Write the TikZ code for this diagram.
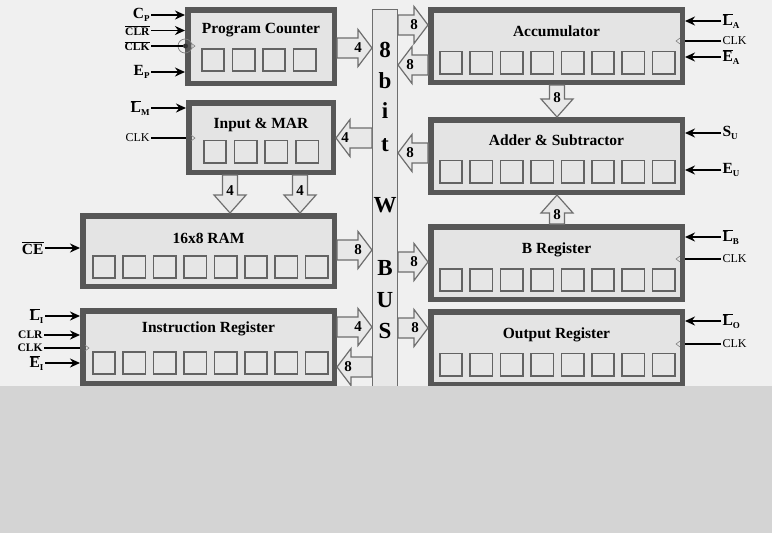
\documentclass[tikz,border=0pt]{standalone}
\usepackage{fontspec}
\setmainfont{Liberation Serif}
\usetikzlibrary{calc,arrows.meta}

\definecolor{bgtop}{HTML}{F0F0F0}
\definecolor{bgbot}{HTML}{D4D4D4}
\definecolor{boxedge}{HTML}{575757}
\definecolor{boxfill}{HTML}{E4E4E4}
\definecolor{cellfill}{HTML}{E6E6E6}
\definecolor{celledge}{HTML}{636363}
\definecolor{fatfill}{HTML}{E8E8E8}
\definecolor{fatedge}{HTML}{6E6E6E}
\definecolor{busfill}{HTML}{E8E8E8}

\newcommand\sub[1]{\raisebox{-2.5pt}{\fontsize{9}{9}\selectfont #1}}
\newcommand\ovl[1]{$\overline{\hbox{#1}}$}

\def\fatw{10pt}\def\fatW{18.5pt}\def\fatl{14pt}

\tikzset{
  x=1pt, y=-1pt,
  regbox/.style={draw=boxedge, line width=5.5pt, fill=boxfill, inner sep=0pt},
  busbox/.style={draw=fatedge, line width=1.3pt, fill=busfill, inner sep=0pt,
    minimum width=24.7pt, minimum height=382pt},
  cell/.style={draw=celledge, line width=1.6pt, fill=cellfill, inner sep=0pt,
    minimum width=22.4pt, minimum height=22.4pt},
  title/.style={font=\fontsize{15.5}{17}\selectfont\bfseries, inner sep=0pt, anchor=base},
  buslet/.style={font=\fontsize{23}{25}\selectfont\bfseries, inner sep=0pt, anchor=base},
  alab/.style={font=\fontsize{15}{16}\selectfont\bfseries, inner sep=0pt},
  siglab/.style={font=\fontsize{15.5}{16}\selectfont\bfseries, inner sep=0pt, outer sep=1.5pt},
  smallab/.style={font=\fontsize{12}{13}\selectfont, inner sep=0pt, outer sep=1.5pt},
  smallbold/.style={font=\fontsize{11.5}{12}\selectfont\bfseries, inner sep=0pt, outer sep=1.5pt},
  sig/.style={-{Stealth[length=10pt,width=9pt]}, line width=1.8pt, black},
  clkline/.style={line width=1.8pt, black},
  clktri/.style={draw=gray, line width=0.6pt},
  fath/.code={\def\fatw{10pt}\def\fatW{18.5pt}\def\fatl{14pt}},
  fatv/.code={\def\fatw{7.5pt}\def\fatW{16pt}\def\fatl{18pt}},
  fat/.style={draw=fatedge, fill=fatfill, line width=1.2pt, line join=miter,
    to path={let \p1=(\tikztostart), \p2=(\tikztotarget),
      \p3=($(\p2)!\fatl!(\p1)$) in
      ($(\p1)!\fatw!90:(\p2)$) -- ($(\p3)!\fatw!-90:(\p1)$) --
      ($(\p3)!\fatW!-90:(\p1)$) -- (\p2) --
      ($(\p3)!\fatW!90:(\p1)$) -- ($(\p3)!\fatw!90:(\p1)$) --
      ($(\p1)!\fatw!-90:(\p2)$) -- cycle}}
}

% #1 style, #2 label node name, #3 start, #4 end, #5 label, #6 label distance from tip
\newcommand\fatarrow[6][fath]{%
  \path[#1,fat] (#3) to (#4);
  \node[alab] (#2) at ($(#4)!#6!(#3)$) {#5};}

% #1 name, #2 count, #3 left x of first cell, #4 pitch, #5 centre y
\newcommand\cellrow[5]{%
  \foreach \i in {1,...,#2}
    \node[cell] (#1-c\i) at ({#3+12+(\i-1)*#4}, #5) {};}

\begin{document}
\begin{tikzpicture}
\useasboundingbox (0,0) rectangle (772,533);
\fill[bgtop] (0,0) rectangle (772,386);

% ---------- bus ----------
\node[busbox] (bus) at (385,200.5) {};
\foreach \ch/\yy [count=\k] in {8/57, b/88, i/118, t/151, W/212, B/275, U/307, S/338}
  \node[buslet] (bus-l\k) at (385,\yy) {\ch};

% ---------- left column ----------
\node[regbox, minimum width=146.5pt, minimum height=73.5pt] (pc) at (261,46.5) {};
\node[title] (pc-t) at (261,33) {Program Counter};
\cellrow{pc}{4}{201}{30.5}{60}

\node[regbox, minimum width=144.5pt, minimum height=69.5pt] (mar) at (261,137.5) {};
\node[title] (mar-t) at (261,128) {Input \& MAR};
\cellrow{mar}{4}{203}{30.7}{151.5}

\node[regbox, minimum width=251.5pt, minimum height=70.5pt] (ram) at (208.5,251) {};
\node[title] (ram-t) at (208.5,243) {16x8 RAM};
\cellrow{ram}{8}{92}{30.4}{267}

\node[regbox, minimum width=251.5pt, minimum height=72.5pt] (ir) at (208.5,347) {};
\node[title] (ir-t) at (208.5,332) {Instruction Register};
\cellrow{ir}{8}{92}{30.4}{363}

% ---------- right column ----------
\node[regbox, minimum width=251.5pt, minimum height=72.5pt] (acc) at (556.5,46) {};
\node[title] (acc-t) at (556.5,36) {Accumulator};
\cellrow{acc}{8}{439}{30.4}{62.5}

\node[regbox, minimum width=251.5pt, minimum height=72.5pt] (add) at (556.5,156) {};
\node[title] (add-t) at (556.5,145) {Adder \& Subtractor};
\cellrow{add}{8}{439}{30.4}{171.5}

\node[regbox, minimum width=251.5pt, minimum height=72.5pt] (breg) at (556.5,263) {};
\node[title] (breg-t) at (556.5,253) {B Register};
\cellrow{breg}{8}{439}{30.4}{280}

\node[regbox, minimum width=251.5pt, minimum height=72.5pt] (out) at (556.5,348) {};
\node[title] (out-t) at (556.5,338) {Output Register};
\cellrow{out}{8}{439}{30.4}{364.5}

% ---------- fat bus arrows ----------
\coordinate (pc-o) at (337,48);
\fatarrow{a1}{pc.east |- pc-o}{bus.west |- pc-o}{4}{14pt}
\coordinate (mar-i) at (336,138);
\fatarrow{a2}{bus.west |- mar-i}{mar.east |- mar-i}{4}{9pt}
\coordinate (ram-o) at (337,250);
\fatarrow{a3}{ram.east |- ram-o}{bus.west |- ram-o}{8}{14pt}
\coordinate (ir-o) at (337,327);
\fatarrow{a4}{ir.east |- ir-o}{bus.west |- ir-o}{4}{14pt}
\coordinate (ir-i) at (337,367);
\fatarrow{a5}{bus.west |- ir-i}{ir.east |- ir-i}{8}{11pt}
\coordinate (acc-i) at (428,25);
\fatarrow{a6}{bus.east |- acc-i}{acc.west |- acc-i}{8}{14pt}
\coordinate (acc-o) at (428,65);
\fatarrow{a7}{acc.west |- acc-o}{bus.east |- acc-o}{8}{12pt}
\coordinate (add-o) at (428,153);
\fatarrow{a8}{add.west |- add-o}{bus.east |- add-o}{8}{12pt}
\coordinate (breg-i) at (428,262);
\fatarrow{a9}{bus.east |- breg-i}{breg.west |- breg-i}{8}{14pt}
\coordinate (out-i) at (428,328);
\fatarrow{a10}{bus.east |- out-i}{out.west |- out-i}{8}{13pt}

\coordinate (mar-d1) at (230,175);
\coordinate (mar-d2) at (300,175);
\fatarrow[fatv]{a11}{mar.south -| mar-d1}{ram.north -| mar-d1}{4}{22pt}
\fatarrow[fatv]{a12}{mar.south -| mar-d2}{ram.north -| mar-d2}{4}{22pt}
\coordinate (acc-d) at (557,85);
\fatarrow[fatv]{a13}{acc.south -| acc-d}{add.north -| acc-d}{8}{19pt}
\fatarrow[fatv]{a14}{breg.north -| acc-d}{add.south -| acc-d}{8}{20pt}

% ---------- control signals, left ----------
\node[siglab, anchor=east] (pc-cp) at (151,15) {C\sub{P}};
\draw[sig] (pc-cp.east) -- (pc-cp.east -| pc.west);
\node[smallbold, anchor=east] (pc-clr) at (151,30.5) {\ovl{CLR}};
\draw[sig] (pc-clr.east) -- (pc-clr.east -| pc.west);
\node[smallbold, anchor=east] (pc-clk) at (151,46) {\ovl{CLK}};
\node[circle, draw=gray, line width=0.7pt, minimum size=14pt, inner sep=0pt] (pc-bub) at (185,46) {};
\node[circle, fill=black!80, minimum size=5pt, inner sep=0pt] (pc-dot) at (185.5,46) {};
\draw[clkline] (pc-clk.east) -- (pc-dot.west);
\draw[clktri] (191,43) -- (195,46) -- (191,49);
\node[siglab, anchor=east] (pc-ep) at (151,72) {E\sub{P}};
\draw[sig] (pc-ep.east) -- (pc-ep.east -| pc.west);

\node[siglab, anchor=east] (mar-lm) at (151,108) {\ovl{L}\sub{M}};
\draw[sig] (mar-lm.east) -- (mar-lm.east -| mar.west);
\node[smallab, anchor=east] (mar-clk) at (151,138) {CLK};
\draw[clkline] (mar-clk.east) -- (mar-clk.east -| mar.west);
\draw[clktri] (191,135) -- (195,138) -- (191,141);

\node[siglab, anchor=east] (ram-ce) at (45,248) {\ovl{CE}};
\draw[sig] (ram-ce.east) -- (ram-ce.east -| ram.west);

\node[siglab, anchor=east] (ir-li) at (45,316) {\ovl{L}\sub{I}};
\draw[sig] (ir-li.east) -- (ir-li.east -| ir.west);
\node[smallbold, anchor=east] (ir-clr) at (44,335) {CLR};
\draw[sig] (ir-clr.east) -- (ir-clr.east -| ir.west);
\node[smallbold, anchor=east] (ir-clk) at (44,348) {CLK};
\draw[clkline] (ir-clk.east) -- (ir-clk.east -| ir.west);
\draw[clktri] (85,345) -- (89,348) -- (85,351);
\node[siglab, anchor=east] (ir-ei) at (45,363) {\ovl{E}\sub{I}};
\draw[sig] (ir-ei.east) -- (ir-ei.east -| ir.west);

% ---------- control signals, right ----------
\node[siglab, anchor=west] (acc-la) at (721,21) {\ovl{L}\sub{A}};
\draw[sig] (acc-la.west) -- (acc-la.west -| acc.east);
\node[smallab, anchor=west] (acc-clk) at (721,41) {CLK};
\draw[clkline] (acc-clk.west) -- (acc-clk.west -| acc.east);
\draw[clktri] (680,38) -- (676,41) -- (680,44);
\node[siglab, anchor=west] (acc-ea) at (721,57) {\ovl{E}\sub{A}};
\draw[sig] (acc-ea.west) -- (acc-ea.west -| acc.east);

\node[siglab, anchor=west] (add-su) at (721,133) {S\sub{U}};
\draw[sig] (add-su.west) -- (add-su.west -| add.east);
\node[siglab, anchor=west] (add-eu) at (721,170) {E\sub{U}};
\draw[sig] (add-eu.west) -- (add-eu.west -| add.east);

\node[siglab, anchor=west] (breg-lb) at (721,237) {\ovl{L}\sub{B}};
\draw[sig] (breg-lb.west) -- (breg-lb.west -| breg.east);
\node[smallab, anchor=west] (breg-clk) at (721,259) {CLK};
\draw[clkline] (breg-clk.west) -- (breg-clk.west -| breg.east);
\draw[clktri] (680,256) -- (676,259) -- (680,262);

\node[siglab, anchor=west] (out-lo) at (721,321) {\ovl{L}\sub{O}};
\draw[sig] (out-lo.west) -- (out-lo.west -| out.east);
\node[smallab, anchor=west] (out-clk) at (721,344) {CLK};
\draw[clkline] (out-clk.west) -- (out-clk.west -| out.east);
\draw[clktri] (680,341) -- (676,344) -- (680,347);

% ---------- lower grey band ----------
\fill[bgbot] (0,386) rectangle (772,533);
\end{tikzpicture}
\end{document}
